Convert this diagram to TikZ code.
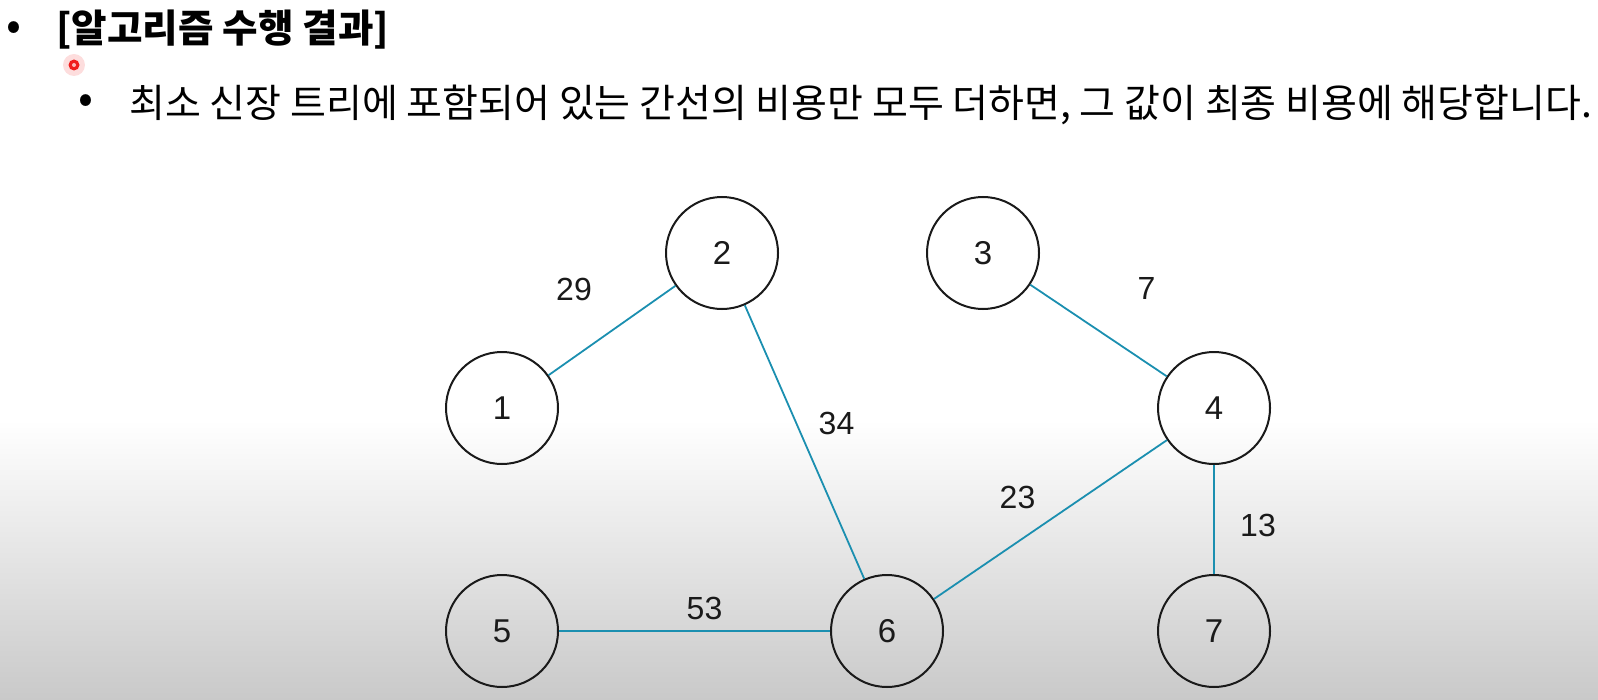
\documentclass[tikz,border=0pt]{standalone}
\usepackage{fontspec}
\setmainfont{Noto Sans CJK KR}
\newfontfamily\numfont{Liberation Sans}
\usetikzlibrary{positioning}
\usepackage{xcolor}
\definecolor{ink}{HTML}{1A1A1A}
\definecolor{edge}{HTML}{1B8FB0}
\definecolor{shadebot}{HTML}{C9C9C9}
\definecolor{dot}{HTML}{F01E1E}
\tikzset{
  vertex/.style={circle,draw=ink,line width=1pt,minimum size=56pt,inner sep=0pt,font=\numfont\fontsize{16.5}{19}\selectfont,text=ink},
  mst/.style={draw=edge,line width=0.9pt},
  weight/.style={font=\numfont\fontsize{16}{19}\selectfont,text=ink,inner sep=0pt},
  headline/.style={font=\fontsize{19.3}{22}\selectfont\bfseries,text=black,inner sep=0pt,anchor=west},
  bodyline/.style={font=\fontsize{19.5}{22}\selectfont,text=black,inner sep=0pt,anchor=west},
  bullet/.style={font=\fontsize{22}{24}\selectfont,text=black,inner sep=0pt},
}

\begin{document}
\begin{tikzpicture}[x=0.5pt,y=-0.5pt]

% ---------- page + background ----------
\useasboundingbox (0,0) rectangle (1598,700);
\shade[top color=white,bottom color=shadebot] (0,420) rectangle (1598,700);

% ---------- text ----------
\node[bullet] (b1) at (14,31) {•};
\node[headline] (title) at (56,30) {[알고리즘 수행 결과]};
\node[bullet] (b2) at (86,104) {•};
\node[bodyline] (desc) at (129,105) {최소 신장 트리에 포함되어 있는 간선의 비용만 모두 더하면, 그 값이 최종 비용에 해당합니다.};

% pointer mark
\fill[dot!25,opacity=0.6] (74,65) circle (11);
\fill[dot] (74,65) circle (5.5);
\fill[white!70!dot] (74,65) circle (2);

% ---------- tree ----------
\node[vertex] (n1) at (502,408) {1};
\node[vertex] (n2) at (722,253) {2};
\node[vertex] (n3) at (983,253) {3};
\node[vertex] (n4) at (1214,408) {4};
\node[vertex] (n5) at (502,631) {5};
\node[vertex] (n6) at (887,631) {6};
\node[vertex] (n7) at (1214,631) {7};

\draw[mst] (n1) -- node[weight,shift={(-38,-41)}]{29} (n2);
\draw[mst] (n2) -- node[weight,shift={(32,-19)}]{34} (n6);
\draw[mst] (n3) -- node[weight,shift={(48,-42)}]{7} (n4);
\draw[mst] (n4) -- node[weight,shift={(-33,-22)}]{23} (n6);
\draw[mst] (n4) -- node[weight,shift={(44,6)}]{13} (n7);
\draw[mst] (n5) -- node[weight,shift={(10,-23)}]{53} (n6);

\end{tikzpicture}
\end{document}
